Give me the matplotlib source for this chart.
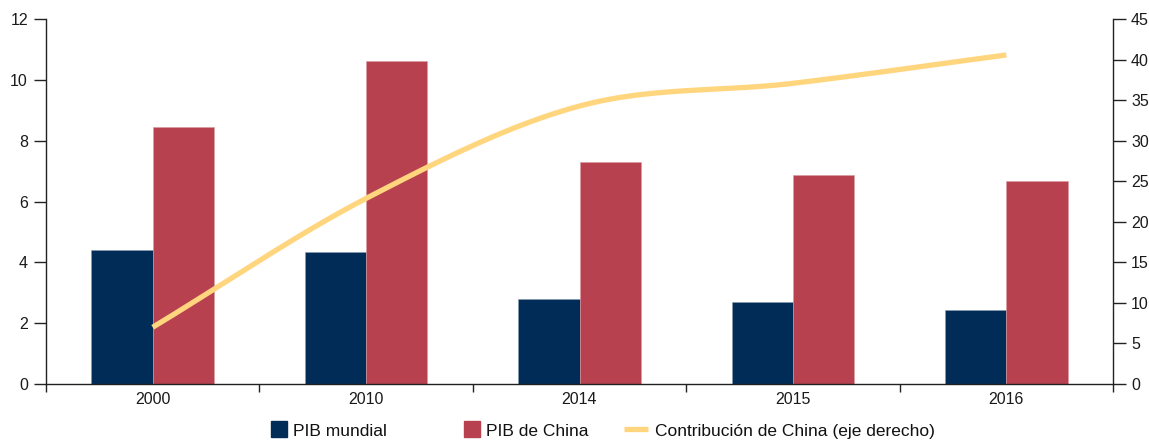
import numpy as np
import matplotlib
matplotlib.use("Agg")
import matplotlib.pyplot as plt
from matplotlib.lines import Line2D

plt.rcParams['font.family'] = ['Liberation Sans', 'DejaVu Sans']

years = ["2000", "2010", "2014", "2015", "2016"]
pib_mundial = [4.4, 4.35, 2.8, 2.7, 2.45]
pib_china = [8.45, 10.63, 7.3, 6.88, 6.68]
contribucion = [7.0, 22.9, 34.3, 37.1, 40.6]
labels = ["PIB mundial", "PIB de China", "Contribución de China (eje derecho)"]

c_navy = "#012c57"
c_red = "#b8414f"
c_yellow = "#ffd57e"
c_axis = "#222222"


def catmull_rom(x, y, n=40):
    x = np.asarray(x, float)
    y = np.asarray(y, float)
    px = np.concatenate([[2 * x[0] - x[1]], x, [2 * x[-1] - x[-2]]])
    py = np.concatenate([[2 * y[0] - y[1]], y, [2 * y[-1] - y[-2]]])
    xs, ys = [], []
    t = np.linspace(0, 1, n)
    for i in range(1, len(px) - 2):
        p0, p1, p2, p3 = (np.array([px[j], py[j]]) for j in range(i - 1, i + 3))
        c1 = p1 + (p2 - p0) / 6
        c2 = p2 - (p3 - p1) / 6
        b = ((1 - t) ** 3)[:, None] * p1 + (3 * (1 - t) ** 2 * t)[:, None] * c1 \
            + (3 * (1 - t) * t ** 2)[:, None] * c2 + (t ** 3)[:, None] * p2
        xs.extend(b[:, 0])
        ys.extend(b[:, 1])
    return np.array(xs), np.array(ys)


W, H = 1149, 440
fig = plt.figure(figsize=(W / 100, H / 100), dpi=100)
ax = fig.add_axes([46 / W, 1 - 384 / H, (1113 - 46) / W, (384 - 19.3) / H])
ax2 = ax.twinx()

x = np.arange(len(years))
w = 0.287
ax.bar(x - w / 2, pib_mundial, width=w, color=c_navy, edgecolor="#8a9bb0", linewidth=0.4, zorder=2)
ax.bar(x + w / 2, pib_china, width=w, color=c_red, edgecolor="#d99aa2", linewidth=0.4, zorder=2)

sx, sy = catmull_rom(x, contribucion)
ax2.plot(sx, sy, color=c_yellow, lw=3.8, solid_capstyle='butt', zorder=3)

ax.set_xlim(-0.5, len(years) - 0.5)
ax.set_ylim(0, 12)
ax2.set_ylim(0, 45)
ax.set_yticks(np.arange(0, 13, 2))
ax2.set_yticks(np.arange(0, 46, 5))

ax.set_xticks(np.arange(-0.5, len(years), 1.0))
ax.set_xticklabels([])
ax.set_xticks(x, minor=True)
ax.set_xticklabels(years, minor=True)
ax.tick_params(axis='x', which='major', direction='out', length=6, width=1, color=c_axis)
ax.tick_params(axis='x', which='minor', length=0, pad=6, labelsize=11.5, labelcolor="#1a1a1a")
ax.tick_params(axis='y', direction='out', length=9, width=1, color=c_axis, labelsize=11.5,
               labelcolor="#1a1a1a", pad=4)
ax2.tick_params(axis='y', direction='out', length=9, width=1, color=c_axis, labelsize=11.5,
                labelcolor="#1a1a1a", pad=4)

for a in (ax, ax2):
    a.spines['top'].set_visible(False)
    for s in ('left', 'right', 'bottom'):
        a.spines[s].set_color(c_axis)
        a.spines[s].set_linewidth(1)
ax.spines['right'].set_visible(False)
ax2.spines['left'].set_visible(False)
ax2.spines['bottom'].set_visible(False)
ax.set_zorder(ax2.get_zorder() - 1)
ax.patch.set_visible(False)
ax2.patch.set_visible(False)

handles = [
    Line2D([], [], marker='s', linestyle='none', markersize=11.5, color=c_navy),
    Line2D([], [], marker='s', linestyle='none', markersize=11.5, color=c_red),
    Line2D([], [], color=c_yellow, lw=3.8, solid_capstyle='butt'),
]
starts = [270, 463, 624]
hlens = [1.0, 1.0, 1.38]
pads = [0.3, 0.3, 0.4]
for h, lab, sx0, hl, pd in zip(handles, labels, starts, hlens, pads):
    leg = fig.legend([h], [lab], loc='center left', bbox_to_anchor=(sx0 / W, 1 - 431 / H),
                     frameon=False, fontsize=12.5, handlelength=hl, handletextpad=pd,
                     borderpad=0, borderaxespad=0, labelcolor="#111111")

fig.savefig("out.png", dpi=100)
